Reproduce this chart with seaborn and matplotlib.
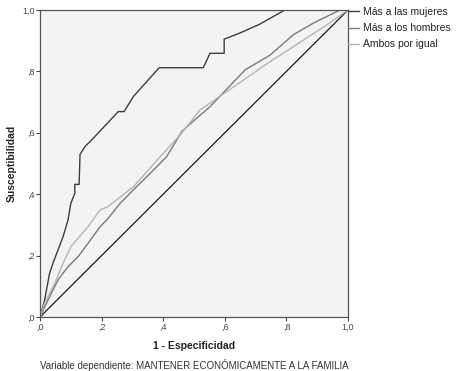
import matplotlib
matplotlib.use("Agg")
import matplotlib.pyplot as plt
import pandas as pd
import seaborn as sns

# ROC curves: (1 - specificity, sensitivity) per group
mujeres_x = [0, 0.015, 0.031, 0.042, 0.075, 0.091, 0.10, 0.113, 0.113, 0.127, 0.130,
             0.146, 0.168, 0.254, 0.273, 0.303, 0.387, 0.530, 0.552, 0.598, 0.598,
             0.649, 0.714, 0.795, 1.0]
mujeres_y = [0, 0.055, 0.142, 0.175, 0.262, 0.316, 0.37, 0.403, 0.432, 0.432, 0.530,
             0.555, 0.577, 0.669, 0.669, 0.718, 0.812, 0.812, 0.859, 0.859, 0.905,
             0.925, 0.954, 1.0, 1.0]

hombres_x = [0, 0.026, 0.058, 0.091, 0.123, 0.156, 0.195, 0.22, 0.26, 0.308, 0.36,
             0.411, 0.44, 0.46, 0.50, 0.552, 0.666, 0.747, 0.822, 0.887, 0.974, 1.0]
hombres_y = [0, 0.055, 0.12, 0.164, 0.196, 0.24, 0.294, 0.32, 0.37, 0.419, 0.47,
             0.522, 0.57, 0.604, 0.64, 0.685, 0.805, 0.853, 0.919, 0.957, 1.0, 1.0]

ambos_x = [0, 0.015, 0.048, 0.075, 0.10, 0.156, 0.195, 0.22, 0.303, 0.40, 0.455,
           0.519, 0.606, 0.747, 0.822, 0.93, 1.0]
ambos_y = [0, 0.045, 0.11, 0.175, 0.229, 0.294, 0.349, 0.359, 0.424, 0.533, 0.593,
           0.674, 0.734, 0.832, 0.88, 0.951, 1.0]

groups = ["Más a las mujeres", "Más a los hombres", "Ambos por igual"]
colors = ["#3d3d3d", "#7a7a7a", "#b4b4b4"]
ticks = [0, 0.2, 0.4, 0.6, 0.8, 1.0]
tick_labels = [",0", ",2", ",4", ",6", ",8", "1,0"]

curves = {
    groups[0]: (mujeres_x, mujeres_y),
    groups[1]: (hombres_x, hombres_y),
    groups[2]: (ambos_x, ambos_y),
}

sns.set_style("white")
plt.rcParams["font.family"] = ["Liberation Sans", "DejaVu Sans"]

fig = plt.figure(figsize=(4.57, 3.71), dpi=100)
ax = fig.add_axes([40 / 457, 1 - 317 / 371, 308 / 457, 307 / 371])
ax.set_facecolor("#f3f3f3")

# chance diagonal
ax.plot([0, 1], [0, 1], color="#1a1a1a", lw=0.9, zorder=1)

# each curve is drawn in point order (ROC steps can be vertical)
for name, c in zip(groups, colors):
    xs, ys = curves[name]
    sub = pd.DataFrame({"fpr": xs, "tpr": ys})
    sns.lineplot(data=sub, x="fpr", y="tpr", sort=False, estimator=None,
                 color=c, lw=1.0, ax=ax, label=name, zorder=2)

ax.set_xlim(0, 1)
ax.set_ylim(0, 1)
ax.set_xticks(ticks)
ax.set_yticks(ticks)
ax.set_xticklabels(tick_labels)
ax.set_yticklabels(tick_labels)
ax.tick_params(axis="both", direction="out", length=3, width=0.8,
               colors="#444444", labelsize=6.5, pad=1, left=True, bottom=True)
for s in ax.spines.values():
    s.set_color("#555555")
    s.set_linewidth(0.9)

ax.set_xlabel("1 - Especificidad", fontsize=7.5, fontweight="bold",
              color="#222222", labelpad=7)
ax.set_ylabel("Susceptibilidad", fontsize=7.5, fontweight="bold",
              color="#222222", labelpad=4)

leg = ax.legend(loc="upper left", bbox_to_anchor=(1.0, 1.01), frameon=False,
                fontsize=7.5, handlelength=1.1, handletextpad=0.3,
                borderaxespad=0, borderpad=0, labelspacing=0.6)
for t in leg.get_texts():
    t.set_color("#222222")

fig.text(194 / 457, 1 - 365 / 371,
         "Variable dependiente: MANTENER ECONÓMICAMENTE A LA FAMILIA",
         ha="center", va="center", fontsize=7, color="#333333")

fig.savefig("out.png", dpi=100, facecolor="white")
